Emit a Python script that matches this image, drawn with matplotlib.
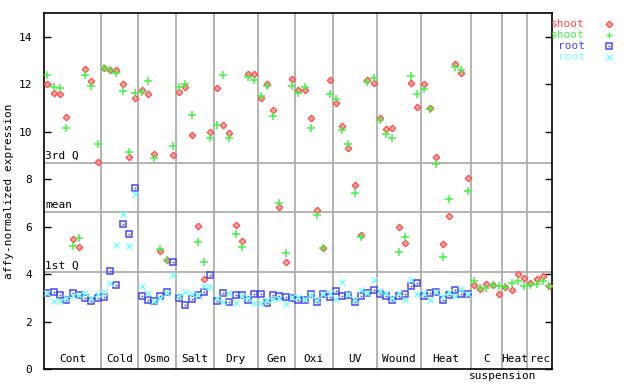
import numpy as np
import matplotlib
matplotlib.use("Agg")
import matplotlib.pyplot as plt
from matplotlib.lines import Line2D

# group names and number of samples in each group
groups = ["Cont", "Cold", "Osmo", "Salt", "Dry", "Gen", "Oxi", "UV", "Wound", "Heat", "C", "Heat", "rec"]
group_sizes = [9, 6, 6, 6, 7, 6, 6, 7, 7, 8, 5, 4, 4]

# shoot, probe 1 (red)
shoot_a = [12.0, 11.64, 11.6, 10.63, 5.48, 5.15, 12.65, 12.16, 8.73,
           12.7, 12.6, 12.6, 12.02, 8.94, 11.43,
           11.77, 11.6, 9.07, 4.98, 4.6, 9.03,
           11.68, 11.89, 9.87, 6.03, 3.8, 10.0,
           11.85, 10.29, 9.95, 6.07, 5.4, 12.44, 12.44,
           11.43, 12.02, 10.92, 6.83, 4.51, 12.23,
           11.77, 11.77, 10.59, 6.71, 5.1, 12.19,
           11.22, 10.25, 9.32, 7.76, 5.65, 12.19, 12.06,
           10.59, 10.12, 10.16, 5.99, 5.31, 12.06, 11.05,
           12.02, 11.01, 8.94, 5.27, 6.45, 12.86, 12.48, 8.06,
           3.54, 3.37, 3.58, 3.54, 3.16,
           3.46, 3.33, 4.0, 3.84,
           3.63, 3.8, 3.92, 3.5]

# shoot, probe 2 (green)
shoot_b = [12.4, 11.89, 11.85, 10.16, 5.19, 5.53, 12.4, 11.94, 9.49,
           12.7, 12.6, 12.48, 11.73, 9.15, 11.64,
           11.68, 12.15, 8.9, 5.06, 4.6, 9.4,
           11.89, 12.02, 10.71, 5.36, 4.51, 9.74,
           10.29, 12.4, 9.74, 5.69, 5.15, 12.32, 12.19,
           11.51, 11.94, 10.67, 7.0, 4.89, 11.94,
           11.64, 11.89, 10.16, 6.5, 5.1, 11.6,
           11.39, 10.08, 9.49, 7.42, 5.57, 12.1, 12.27,
           10.5, 9.91, 9.74, 4.93, 5.57, 12.36, 11.6,
           11.81, 10.97, 8.65, 4.72, 7.17, 12.74, 12.61, 7.51,
           3.71, 3.42, 3.42, 3.54, 3.5,
           3.46, 3.63, 3.71, 3.5,
           3.54, 3.58, 3.71, 3.5]

nan = np.nan
# root, probe 1 (blue)
root_a = [3.2, 3.25, 3.12, 2.94, 3.2, 3.12, 3.01, 2.87, 3.0,
          3.06, 4.13, 3.54, 6.12, 5.69, 7.63,
          3.08, 2.94, 2.87, 3.08, 3.25, 4.51,
          3.0, 2.7, 2.95, 3.12, 3.25, 3.96,
          2.87, 3.2, 2.83, 3.12, 3.12, 2.91, 3.16,
          3.16, 2.8, 3.12, 3.07, 3.04, 3.0,
          2.91, 2.91, 3.16, 2.83, 3.16, 3.04,
          3.29, 3.08, 3.12, 2.83, 3.08, 3.2, 3.33,
          3.16, 3.08, 2.91, 3.08, 3.16, 3.5, 3.63,
          3.08, 3.2, 3.25, 2.91, 3.12, 3.33, 3.16, 3.16,
          nan, nan, nan, nan, nan,
          nan, nan, nan, nan,
          nan, nan, nan, nan]

# root, probe 2 (cyan)
root_b = [3.2, 2.87, 2.87, 3.0, 3.08, 3.12, 3.2, 3.0, 3.16,
          3.26, 3.63, 5.23, 6.54, 5.19, 7.38,
          3.5, 3.2, 2.87, 2.99, 3.2, 3.96,
          3.08, 3.25, 3.16, 3.12, 3.5, 3.46,
          3.0, 2.83, 3.2, 2.78, 3.08, 3.0, 2.78,
          2.78, 2.91, 2.95, 2.99, 2.74, 3.04,
          3.04, 2.95, 3.12, 2.9, 3.16, 3.2,
          2.95, 3.67, 3.16, 2.91, 3.33, 3.2, 3.75,
          3.29, 3.2, 3.0, 3.2, 2.91, 3.75, 3.16,
          3.2, 2.91, 3.25, 3.08, 3.25, 3.08, 3.37, 3.16,
          nan, nan, nan, nan, nan,
          nan, nan, nan, nan,
          nan, nan, nan, nan]

# reference levels
ref_names = ["3rd Q", "mean", "1st Q"]
ref_values = [8.69, 6.62, 4.09]

RED = "#ff4848"
GREEN = "#48f048"
BLUE = "#4848f0"
CYAN = "#78ffff"
GRAY = "#a8a8a8"
FONT = "DejaVu Sans Mono"

x = np.arange(1, len(shoot_a) + 1)
bounds = np.cumsum(group_sizes) + 0.5
starts = bounds - np.array(group_sizes)

fig = plt.figure(figsize=(6.4, 3.84), dpi=100)
ax = fig.add_axes([0.0692, 0.0383, 0.7938, 0.9271])

# group separators and reference lines
for b in bounds[:-1]:
    ax.axvline(b, color=GRAY, lw=1.2, zorder=1)
for name, val in zip(ref_names, ref_values):
    ax.axhline(val, color=GRAY, lw=1.2, zorder=1)
    ax.text(0.6, val + 0.08, name, fontsize=8, family=FONT, va="bottom", ha="left", zorder=2)

# points
ax.plot(x, shoot_a, ls="none", marker="D", ms=3.3, mfc="#ffa8a8", mec=RED, mew=0.9, zorder=3)
ax.plot(x, shoot_b, ls="none", marker="+", ms=5.5, mec=GREEN, mew=1.1, zorder=3)
ax.plot(x, root_a, ls="none", marker="s", ms=4.4, mfc="none", mec=BLUE, mew=1.1, zorder=4)
ax.plot(x, root_a, ls="none", marker="s", ms=1.2, mfc=BLUE, mec=BLUE, mew=0, zorder=4)
ax.plot(x, root_b, ls="none", marker="x", ms=4.4, mec=CYAN, mew=1.0, zorder=4)

# group labels
for name, s, b in zip(groups, starts, bounds):
    ax.text((s + b) / 2, 0.015, name, transform=ax.get_xaxis_transform(),
            fontsize=8, family=FONT, ha="center", va="bottom")
ax.text(bounds[10], -0.005, "suspension", transform=ax.get_xaxis_transform(),
        fontsize=8, family=FONT, ha="center", va="top")

ax.set_xlim(0.5, bounds[-1])
ax.set_ylim(0, 15)
ax.set_xticks([])
ax.set_yticks(np.arange(0, 15, 2))
ax.tick_params(axis="y", direction="in", length=5, width=1, pad=9, labelsize=8,
               right=True, left=True)
for lab in ax.get_yticklabels():
    lab.set_family(FONT)
for sp in ax.spines.values():
    sp.set_linewidth(1.2)
ax.set_ylabel("affy-normalized expression", fontsize=8, family=FONT, labelpad=3)

# legend drawn by hand on the right
legend_rows = [("shoot", RED, "D"), ("shoot", GREEN, "+"), ("root", BLUE, "s"), ("root", CYAN, "x")]
for i, (lab, col, mk) in enumerate(legend_rows):
    yy = 1 - (23.7 + 11 * i) / 384
    fig.text(585 / 640, yy, lab, color=col, fontsize=8, family=FONT, ha="right", va="center")
    if mk == "D":
        fig.add_artist(Line2D([609 / 640], [yy], marker="D", ms=3.3, mfc="#ffa8a8", mec=col, mew=0.9))
    elif mk == "s":
        fig.add_artist(Line2D([609 / 640], [yy], marker="s", ms=4.4, mfc="none", mec=col, mew=1.1))
        fig.add_artist(Line2D([609 / 640], [yy], marker="s", ms=1.2, mfc=col, mec=col, mew=0))
    else:
        fig.add_artist(Line2D([609 / 640], [yy], marker=mk, ms=4.6, mec=col, mew=1.0))

fig.savefig("out.png", dpi=100)
